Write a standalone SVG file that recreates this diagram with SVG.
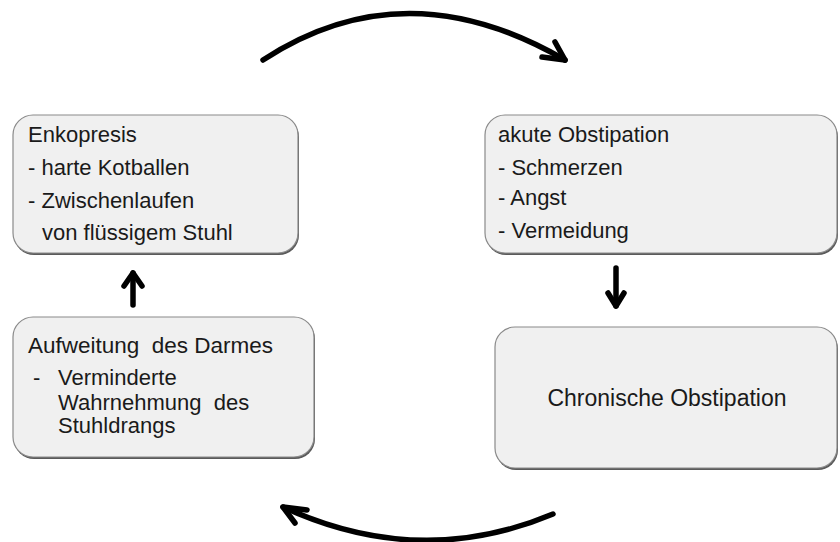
<svg xmlns="http://www.w3.org/2000/svg" width="840" height="542" viewBox="0 0 840 542">
<style>
.box{fill:#f0f0f0;stroke:#8a8a8a;stroke-width:1.2}
.sh{fill:#5a5a5a}
.t{font-family:"Liberation Sans",Arial,sans-serif;font-size:22px;fill:#1a1a1a}
.arc{fill:none;stroke:#000;stroke-width:5.5;stroke-linecap:round;stroke-linejoin:round}
</style>
<rect width="840" height="542" fill="#fff"/>
<g id="node-enkopresis">
<rect class="sh" x="14" y="117" width="285" height="138" rx="20"/>
<rect class="box" x="13" y="115" width="285" height="138" rx="20"/>
<text class="t" x="28" y="142">Enkopresis</text>
<text class="t" x="28" y="175">- harte Kotballen</text>
<text class="t" x="28" y="208">- Zwischenlaufen</text>
<text class="t" x="42" y="240">von flüssigem Stuhl</text>
</g>
<g id="node-akute">
<rect class="sh" x="486" y="117" width="352" height="138" rx="20"/>
<rect class="box" x="485" y="115" width="352" height="138" rx="20"/>
<text class="t" x="498" y="142">akute Obstipation</text>
<text class="t" x="498" y="175">- Schmerzen</text>
<text class="t" x="498" y="205">- Angst</text>
<text class="t" x="498" y="238">- Vermeidung</text>
</g>
<g id="node-aufweitung">
<rect class="sh" x="14" y="319" width="301" height="140" rx="20"/>
<rect class="box" x="13" y="317" width="301" height="140" rx="20"/>
<text class="t" x="28" y="353" style="font-size:22.5px">Aufweitung&#160; des Darmes</text>
<text class="t" x="33" y="385">-</text>
<text class="t" x="58" y="385">Verminderte</text>
<text class="t" x="58" y="410">Wahrnehmung&#160; des</text>
<text class="t" x="58" y="433">Stuhldrangs</text>
</g>
<g id="node-chronische">
<rect class="sh" x="496" y="329" width="342" height="141" rx="20"/>
<rect class="box" x="495" y="327" width="342" height="141" rx="20"/>
<text class="t" x="667" y="406" text-anchor="middle" style="font-size:23px">Chronische Obstipation</text>
</g>
<g id="connectors">
<path class="arc" d="M263 60 Q405 -33 565 60"/>
<path class="arc" d="M555 42 L565 60 L542 57"/>
<path class="arc" d="M553 514 Q420 570 283 507"/>
<path class="arc" d="M295 523 L283 507 L307 510"/>
<path class="arc" d="M133 305 L133 273"/>
<path class="arc" d="M124 286 L133 273 L142 286"/>
<path class="arc" d="M616 268 L616 306"/>
<path class="arc" d="M608 293 L616 306 L624 293"/>
</g>
</svg>
